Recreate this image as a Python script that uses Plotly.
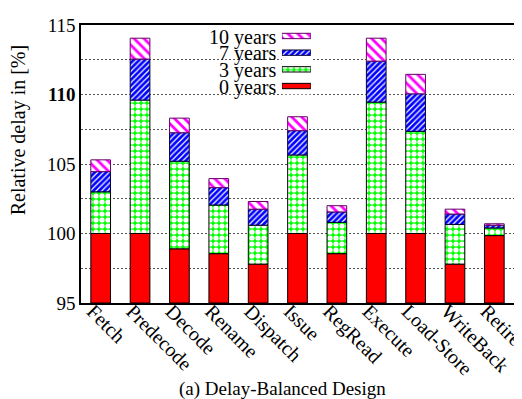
import plotly.graph_objects as go

stages = ["Fetch", "Predecode", "Decode", "Rename", "Dispatch", "Issue",
          "RegRead", "Execute", "Load-Store", "WriteBack", "Retire"]
# cumulative top of each stacked segment (relative delay in %)
years0 = [100.0, 100.0, 98.9, 98.55, 97.8, 100.0, 98.55, 100.0, 100.0, 97.8, 99.85]
years3 = [103.0, 109.6, 105.2, 102.05, 100.6, 105.65, 100.8, 109.45, 107.35, 100.65, 100.4]
years7 = [104.45, 112.55, 107.25, 103.3, 101.75, 107.4, 101.55, 112.4, 110.05, 101.4, 100.6]
years10 = [105.3, 114.05, 108.3, 103.95, 102.3, 108.4, 102.0, 114.05, 111.45, 101.75, 100.7]
series_names = ["0 years", "3 years", "7 years", "10 years"]
y_base = 95
y_ticks = [95, 97.5, 100, 102.5, 105, 107.5, 110, 112.5, 115]
y_ticktext = ["95", "", "100", "", "105", "", "<b>110</b>", "", "115"]

FONT = "Liberation Serif, Times New Roman, serif"

styles = [
    dict(color="#ff0000", line="#000000", pattern=None),
    dict(color="#00ff00", line="#000000",
         pattern=dict(shape=".", fgcolor="white", bgcolor="#00ff00", size=6, solidity=0.6, fillmode="replace")),
    dict(color="#0000ff", line="#000033",
         pattern=dict(shape="/", fgcolor="white", bgcolor="#0000ff", size=4, solidity=0.3, fillmode="replace")),
    dict(color="#ff00ff", line="#660066",
         pattern=dict(shape="\\", fgcolor="#ff00ff", bgcolor="white", size=7, solidity=0.4, fillmode="replace")),
]

tops = [years0, years3, years7, years10]
bottoms = [[y_base] * len(stages), years0, years3, years7]

fig = go.Figure()
for name, top, bot, st in zip(series_names, tops, bottoms, styles):
    marker = dict(color=st["color"], line=dict(color=st["line"], width=1))
    if st["pattern"]:
        marker["pattern"] = st["pattern"]
    fig.add_trace(go.Bar(
        x=stages, y=[t - b for t, b in zip(top, bot)], base=bot,
        name=name, marker=marker, width=0.5, showlegend=False,
        xaxis="x", yaxis="y",
    ))

# custom legend: swatches as bars on a small hidden axis, text on the left
for name, st in zip(series_names, styles):
    marker = dict(color=st["color"], line=dict(color=st["line"], width=1))
    if st["pattern"]:
        marker["pattern"] = st["pattern"]
    fig.add_trace(go.Bar(
        y=[name], x=[1], base=[0], orientation="h", width=0.32,
        marker=marker, showlegend=False, xaxis="x2", yaxis="y2",
        hoverinfo="skip",
    ))

annotations = []
leg_y0, leg_y1 = 0.7505, 0.9905
leg_x0, leg_x1 = 0.464, 0.531
step = (leg_y1 - leg_y0) / 4
for i, name in enumerate(series_names):
    annotations.append(dict(
        x=0.455, y=leg_y0 + step * (i + 0.5) - 0.004, xref="paper", yref="paper",
        text=name, showarrow=False, xanchor="right", yanchor="middle",
        font=dict(family=FONT, size=20, color="black"),
    ))
annotations.append(dict(
    x=-0.145, y=0.622, xref="paper", yref="paper", text="Relative delay in [%]",
    textangle=-90, showarrow=False, xanchor="center", yanchor="middle",
    font=dict(family=FONT, size=20, color="black"),
))
annotations.append(dict(
    x=0.466, y=-0.31, xref="paper", yref="paper", text="(a) Delay-Balanced Design",
    showarrow=False, xanchor="center", yanchor="middle",
    font=dict(family=FONT, size=19, color="black"),
))

# white box behind legend (hides grid lines), attached to the legend subplot
wx = leg_x1 - leg_x0
wy = leg_y1 - leg_y0
box = dict(type="rect", xref="x2 domain", yref="y2 domain",
           x0=(0.263 - leg_x0) / wx, x1=(0.540 - leg_x0) / wx,
           y0=(0.759 - leg_y0) / wy, y1=(0.995 - leg_y0) / wy,
           fillcolor="white", line=dict(width=0), layer="below")

fig.update_layout(
    width=522, height=399,
    margin=dict(l=73, r=16, t=17, b=104, autoexpand=False),
    paper_bgcolor="white", plot_bgcolor="white",
    barmode="overlay",
    font=dict(family=FONT, size=18, color="black"),
    xaxis=dict(
        type="category", range=[-0.5, len(stages) - 0.5],
        tickangle=45, showline=True, linecolor="black", linewidth=1.5,
        mirror=True, ticks="", showgrid=False, automargin=False,
        ticklabelstandoff=-13, ticklabelshift=-8,
        tickfont=dict(family=FONT, size=20, color="black"),
    ),
    yaxis=dict(
        range=[95, 115], tickvals=y_ticks, ticktext=y_ticktext,
        showline=True, linecolor="black", linewidth=1.5, mirror=True,
        showgrid=True, gridcolor="#555555", gridwidth=1, griddash="2px,2px",
        ticks="", zeroline=False, automargin=False,
        tickfont=dict(family=FONT, size=19, color="black"),
    ),
    xaxis2=dict(domain=[leg_x0, leg_x1], anchor="y2", range=[0, 1], visible=False, fixedrange=True),
    yaxis2=dict(domain=[leg_y0, leg_y1], anchor="x2", type="category",
                categoryorder="array", categoryarray=series_names,
                range=[-0.5, 3.5], visible=False, fixedrange=True),
    shapes=[box],
    annotations=annotations,
)

fig.write_html("out.html")
